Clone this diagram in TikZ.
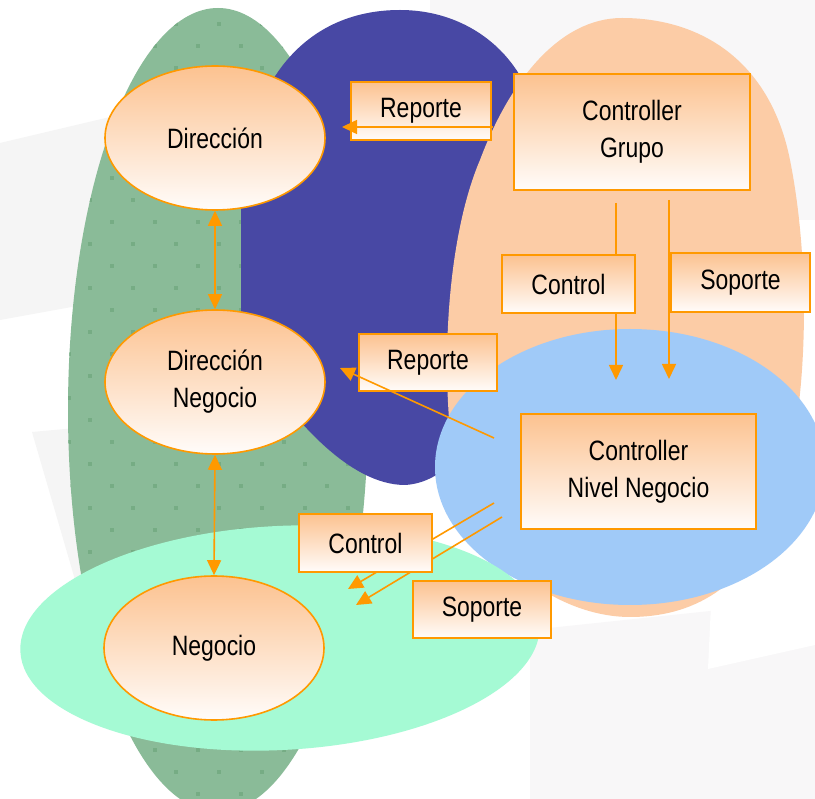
\documentclass[tikz,border=0pt]{standalone}
\usepackage{fontspec}
\setmainfont[FakeStretch=0.82]{Liberation Sans}
\usetikzlibrary{arrows.meta,shapes.geometric}
\definecolor{orng}{RGB}{255,153,0}
\definecolor{navyc}{RGB}{72,72,164}
\definecolor{dgreen}{RGB}{138,187,152}
\definecolor{dgdot}{RGB}{118,172,132}
\definecolor{peachc}{RGB}{252,204,166}
\definecolor{lblue}{RGB}{160,202,248}
\definecolor{mint}{RGB}{165,250,212}
\definecolor{ntop}{RGB}{252,194,144}
\definecolor{nbot}{RGB}{255,252,250}
\definecolor{bga}{RGB}{248,247,248}
\definecolor{bgb}{RGB}{245,245,245}
\begin{document}
\begin{tikzpicture}[x=1pt,y=-1pt,
  box/.style={draw=orng, line width=1.6pt, top color=ntop, bottom color=nbot, rectangle, inner sep=0pt, align=center, font=\fontsize{28}{37}\selectfont},
  oval/.style={draw=orng, line width=1.6pt, top color=ntop, bottom color=nbot, ellipse, inner sep=0pt, minimum width=220pt, minimum height=144pt, align=center, font=\fontsize{28}{37}\selectfont},
  arr/.style={draw=orng, line width=1.6pt, -{Triangle[length=15pt,width=14pt]}},
  darr/.style={draw=orng, line width=1.6pt, {Triangle[length=15pt,width=14pt]}-{Triangle[length=15pt,width=14pt]}}
]
\useasboundingbox (0,0) rectangle (815,799);
\fill[white] (0,0) rectangle (815,799);
% faint background panels
\fill[bgb] (0,143) -- (110,117) -- (110,300) -- (0,320) -- cycle;
\fill[bgb] (32,432) -- (110,425) -- (110,590) -- (78,590) -- cycle;
\fill[bga] (430,0) -- (815,0) -- (815,220) -- (430,220) -- cycle;
\fill[bga] (530,630) -- (815,600) -- (815,799) -- (530,799) -- cycle;
\fill[white] (712,583) -- (815,578) -- (815,645) -- (708,669) -- cycle;
% dark green blob
\fill[dgreen] (218,410) ellipse [x radius=150, y radius=402];
\begin{scope}
\clip (218,410) ellipse [x radius=150, y radius=402];
\foreach \j in {0,...,36} {
  \foreach \i in {0,...,9} {
    \pgfmathsetmacro{\xx}{25.7+43*\i+21.5*mod(\j,2)}
    \pgfmathsetmacro{\yy}{2+22*\j}
    \fill[dgdot] (\xx-2,\yy-2) rectangle (\xx+2,\yy+2);
  }
}
\end{scope}
% navy blob
\fill[navyc] (241,340) -- (241,210) .. controls (241,90) and (300,10) .. (400,10)
  .. controls (480,10) and (540,70) .. (540,150)
  .. controls (550,260) and (500,480) .. (405,485)
  .. controls (350,485) and (290,420) .. (241,340) -- cycle;
% peach blob
\fill[peachc] (622,18) .. controls (700,18) and (770,60) .. (790,160)
  .. controls (810,260) and (810,400) .. (780,500)
  .. controls (750,590) and (690,617) .. (630,617)
  .. controls (560,617) and (470,560) .. (452,450)
  .. controls (440,350) and (450,230) .. (480,160)
  .. controls (510,80) and (560,18) .. (622,18) -- cycle;
% light blue blob
\fill[lblue] (630,467) ellipse [x radius=195, y radius=138];
% mint blob
\fill[mint, rotate around={3:(280,638)}] (280,638) ellipse [x radius=260, y radius=112];
% arrow coordinates
\coordinate (c1s) at (616,203); \coordinate (c1e) at (616,380);
\coordinate (s1s) at (669,200); \coordinate (s1e) at (669,379);
\coordinate (c2s) at (494,503); \coordinate (c2e) at (348,589);
\coordinate (s2s) at (502,517); \coordinate (s2e) at (356,605);
\coordinate (r1s) at (493,127); \coordinate (r1e) at (342,127);
\coordinate (r2s) at (494,438); \coordinate (r2e) at (340,368);
\draw[arr] (c1s) -- (c1e);
\draw[arr] (s1s) -- (s1e);
\draw[arr] (c2s) -- (c2e);
\draw[arr] (s2s) -- (s2e);
% nodes
\node[oval] (dir) at (215,138) {Dirección};
\node[oval] (dneg) at (215,382) {Dirección\\Negocio};
\node[oval] (neg) at (214,648) {Negocio};
\node[box, minimum width=140pt, minimum height=58pt] (rep1) at (421,111) {Reporte};
\node[box, minimum width=236pt, minimum height=116pt] (cg) at (632,132) {Controller\\Grupo};
\node[box, minimum width=133pt, minimum height=58pt] (ctl1) at (568.5,284) {Control};
\node[box, minimum width=139pt, minimum height=59pt] (sop1) at (740.5,282.5) {Soporte};
\node[box, minimum width=138pt, minimum height=57pt] (rep2) at (428,362.5) {Reporte};
\node[box, minimum width=235pt, minimum height=115pt] (cnn) at (638.5,471.5) {Controller\\Nivel Negocio};
\node[box, minimum width=133pt, minimum height=58pt] (ctl2) at (365.5,543) {Control};
\node[box, minimum width=138pt, minimum height=57pt] (sop2) at (482,609.5) {Soporte};
\draw[arr] (r1s) -- (r1e);
\draw[arr] (r2s) -- (r2e);
\draw[darr] (dir.south) -- (dneg.north);
\draw[darr] (dneg.south) -- (neg.north);
\end{tikzpicture}
\end{document}
